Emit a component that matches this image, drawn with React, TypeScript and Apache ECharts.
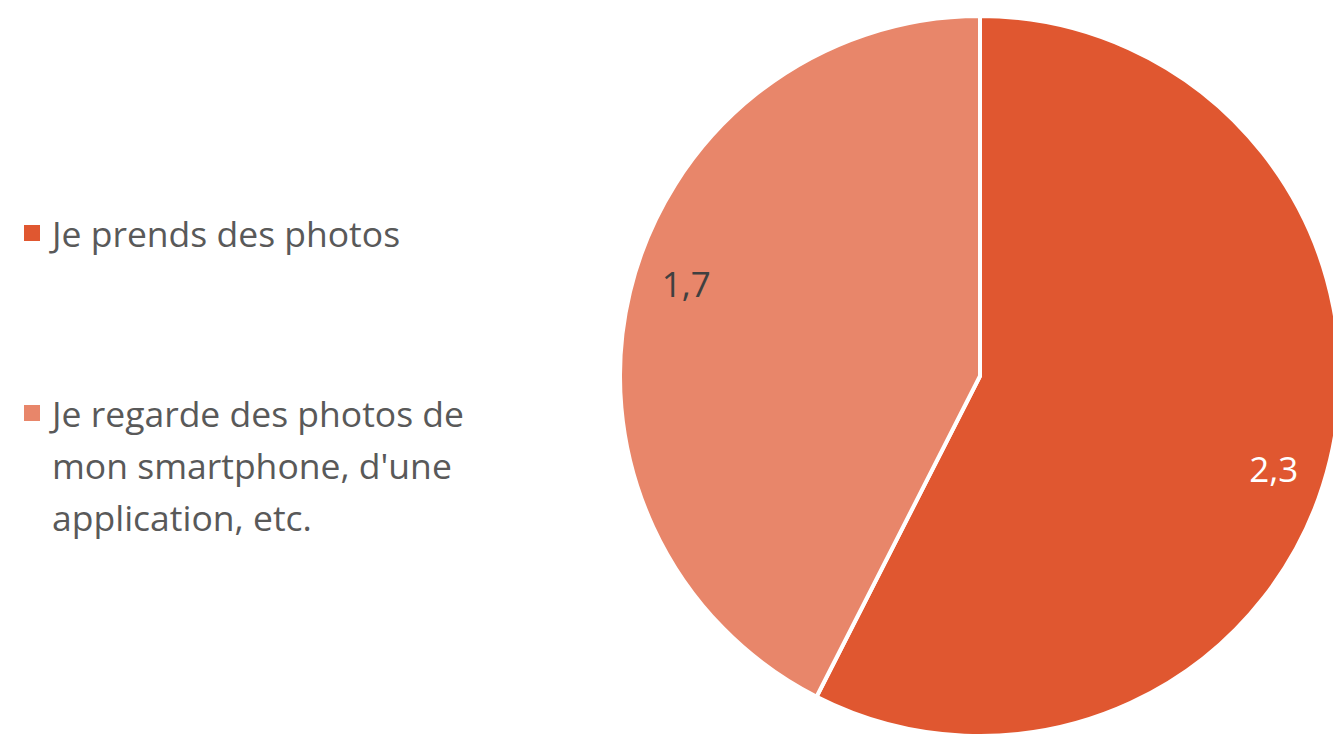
import React, { useEffect, useRef } from "react";
import * as echarts from "echarts";

const categories = ["Je prends des photos", "Je regarde des photos de mon smartphone, d'une application, etc."];
const legendLabels = ["Je prends des photos", "Je regarde des photos de\nmon smartphone, d'une\napplication, etc."];
const values = [2.3, 1.7];
const colors = ["#E05730", "#E8866A"];
const labelColors = ["#FFFFFF", "#404040"];

const FONT = "Open Sans";

export default function App() {
  const ref = useRef<HTMLDivElement>(null);
  useEffect(() => {
    if (!ref.current) return;
    const chart = echarts.init(ref.current, null, { renderer: "svg" });
    const data = categories.map((name, i) => ({
      name,
      value: values[i],
      itemStyle: { color: colors[i] },
    }));
    const labelData = categories.map((name, i) => ({
      name,
      value: values[i],
      label: { color: labelColors[i] },
    }));
    chart.setOption({
      animation: false,
      legend: {
        orient: "vertical",
        left: 22,
        top: 207,
        padding: 0,
        itemWidth: 18,
        itemHeight: 18,
        itemGap: 24,
        icon: "rect",
        selectedMode: false,
        formatter: (name: string) => {
          const i = categories.indexOf(name);
          const lines = legendLabels[i].split("\n");
          // keep the first line level with the icon: pad above so the block is centred on line 1
          const pad = Array(lines.length - 1).fill("").join("\n");
          return lines.length > 1 ? pad + "\n" + legendLabels[i] : legendLabels[i];
        },
        textStyle: { fontFamily: FONT, fontSize: 35.5, color: "#595959", lineHeight: 52, padding: [0, 0, 0, 6] },
        data: categories.map((name, i) => ({
          name,
          itemStyle: { color: colors[i] },
        })),
      },
      series: [
        {
          type: "pie",
          center: [980, 376],
          radius: [0, 360],
          startAngle: 90,
          clockwise: true,
          silent: true,
          label: { show: false },
          labelLine: { show: false },
          itemStyle: { borderColor: "#FFFFFF", borderWidth: 4 },
          data,
        },
        {
          type: "pie",
          center: [980, 376],
          radius: [250, 360],
          startAngle: 86,
          clockwise: true,
          silent: true,
          itemStyle: { color: "rgba(0,0,0,0)" },
          label: {
            show: true,
            position: "inside",
            fontFamily: FONT,
            fontSize: 35,
            formatter: (p: any) => String(p.value).replace(".", ","),
          },
          labelLine: { show: false },
          data: labelData,
        },
      ],
    });
    return () => chart.dispose();
  }, []);
  return (
    <div
      ref={ref}
      style={{ position: "absolute", left: 0, top: 0, width: 1333, height: 735, background: "#FFFFFF" }}
    />
  );
}
